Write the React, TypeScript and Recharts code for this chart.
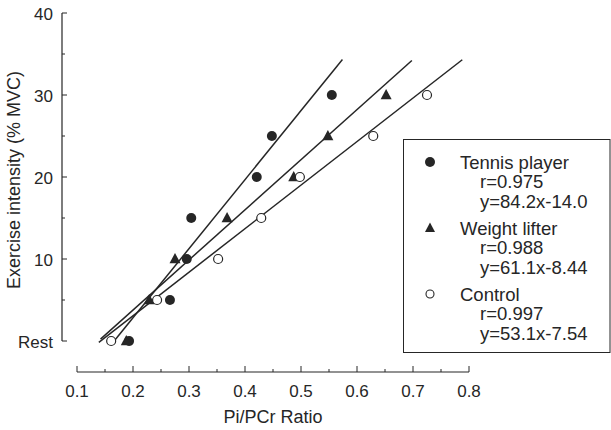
import React from 'react';
import { ScatterChart, Scatter, XAxis, YAxis, ReferenceLine, Legend, Label } from 'recharts';

// ---- data ----
const levels = [0, 5, 10, 15, 20, 25, 30];
const tennisX = [0.193, 0.266, 0.296, 0.304, 0.421, 0.448, 0.555];
const weightX = [0.188, 0.229, 0.275, 0.368, 0.487, 0.548, 0.652];
const controlX = [0.161, 0.243, 0.352, 0.429, 0.498, 0.629, 0.725];

const seriesNames = ['Tennis player', 'Weight lifter', 'Control'];
const rTexts = ['r=0.975', 'r=0.988', 'r=0.997'];
const eqTexts = ['y=84.2x-14.0', 'y=61.1x-8.44', 'y=53.1x-7.54'];
const slopes = [84.2, 61.1, 53.1];
const intercepts = [-14.0, -8.44, -7.54];
const lineStarts = [0.162, 0.142, 0.139];
const lineEnds = [0.574, 0.698, 0.788];

const xTicks = [0.1, 0.15, 0.2, 0.25, 0.3, 0.35, 0.4, 0.45, 0.5, 0.55, 0.6, 0.65, 0.7, 0.75, 0.8];
const yTicks = [0, 5, 10, 15, 20, 25, 30, 35, 40];
const yTickLabels: Record<number, string> = { 0: 'Rest', 10: '10', 20: '20', 30: '30', 40: '40' };

const X_MIN = 0.0732;
const Y_MIN = -3.78;
const INK = '#262626';
const FONT = '"Liberation Sans", Arial, Helvetica, sans-serif';

const toPoints = (xs: number[]) => xs.map((x, i) => ({ x, y: levels[i] }));
const tennisData = toPoints(tennisX);
const weightData = toPoints(weightX);
const controlData = toPoints(controlX);
const fitLines = slopes.map((m, i) => [
  { x: lineStarts[i], y: m * lineStarts[i] + intercepts[i] },
  { x: lineEnds[i], y: m * lineEnds[i] + intercepts[i] },
]);

const FilledCircle = (p: any) => <circle cx={p.cx} cy={p.cy} r={5} fill={INK} />;
const OpenCircle = (p: any) => (
  <circle cx={p.cx} cy={p.cy} r={4.5} fill="#fff" stroke={INK} strokeWidth={1.2} />
);
const Triangle = (p: any) => (
  <path d={`M${p.cx},${p.cy - 6} L${p.cx + 5.5},${p.cy + 4.3} L${p.cx - 5.5},${p.cy + 4.3} Z`} fill={INK} />
);
const NoShape = () => <g />;

const XTick = (props: any) => {
  const { x, y, payload } = props;
  const v = payload.value as number;
  const major = Math.abs(v * 10 - Math.round(v * 10)) < 1e-6;
  return (
    <g>
      <line x1={x} x2={x} y1={y} y2={y - (major ? 6 : 3)} stroke={INK} strokeWidth={1} />
      {major && (
        <text x={x} y={y + 25} textAnchor="middle" fontSize={17} fontFamily={FONT} fill={INK}>
          {v.toFixed(1)}
        </text>
      )}
    </g>
  );
};

const YTick = (props: any) => {
  const { x, y, payload } = props;
  const v = payload.value as number;
  const label = yTickLabels[v];
  return (
    <g>
      <line x1={x} x2={x + (label ? 5 : 3)} y1={y} y2={y} stroke={INK} strokeWidth={1} />
      {label && (
        <text x={x - 9} y={y} dy="0.42em" textAnchor="end" fontSize={17} fontFamily={FONT} fill={INK}>
          {label}
        </text>
      )}
    </g>
  );
};

const LegendBox = () => {
  const markers = [
    <circle key="m0" cx={27} cy={23} r={5} fill={INK} />,
    <path key="m1" d="M27,83.5 L32,93 L22,93 Z" fill={INK} />,
    <circle key="m2" cx={27} cy={155} r={4} fill="#fff" stroke={INK} strokeWidth={1.1} />,
  ];
  const groupTop = [23, 89, 155];
  return (
    <svg width={208} height={215} style={{ display: 'block', overflow: 'visible' }}>
      <rect x={0.5} y={0.5} width={206.5} height={213} fill="#fff" stroke={INK} strokeWidth={1} />
      {markers}
      {seriesNames.map((n, i) => (
        <g key={n} fontFamily={FONT} fontSize={18.5} fill={INK}>
          <text x={57} y={groupTop[i]} dy="0.36em">{n}</text>
          <text x={77} y={groupTop[i] + 19.5} dy="0.36em">{rTexts[i]}</text>
          <text x={77} y={groupTop[i] + 39} dy="0.36em">{eqTexts[i]}</text>
        </g>
      ))}
    </svg>
  );
};

export default function App() {
  return (
    <div style={{ position: 'absolute', left: 0, top: 0, background: '#fff' }}>
      <ScatterChart width={611} height={430} margin={{ top: 13, right: 142, bottom: 0, left: 0 }}>
        <XAxis
          type="number"
          dataKey="x"
          domain={[X_MIN, 0.8]}
          ticks={xTicks}
          interval={0}
          allowDataOverflow
          axisLine={false}
          tickLine={false}
          tickSize={0}
          tickMargin={0}
          height={58}
          tick={<XTick />}
        >
          <Label
            content={() => (
              <text x={273} y={423} textAnchor="middle" fontSize={18} fontFamily={FONT} fill={INK}>
                Pi/PCr Ratio
              </text>
            )}
          />
        </XAxis>
        <YAxis
          type="number"
          dataKey="y"
          domain={[Y_MIN, 40]}
          ticks={yTicks}
          interval={0}
          allowDataOverflow
          axisLine={false}
          tickLine={false}
          tickSize={0}
          tickMargin={0}
          width={62}
          tick={<YTick />}
        >
          <Label
            content={() => (
              <text
                transform="translate(20,180) rotate(-90)"
                textAnchor="middle"
                fontSize={18}
                fontFamily={FONT}
                fill={INK}
              >
                Exercise intensity (% MVC)
              </text>
            )}
          />
        </YAxis>
        <ReferenceLine
          segment={[{ x: 0.1, y: Y_MIN }, { x: 0.8, y: Y_MIN }]}
          stroke={INK}
          strokeWidth={1.2}
          ifOverflow="visible"
        />
        <ReferenceLine
          segment={[{ x: X_MIN, y: 0 }, { x: X_MIN, y: 40 }]}
          stroke={INK}
          strokeWidth={1.2}
          ifOverflow="visible"
        />
        {fitLines.map((d, i) => (
          <Scatter
            key={'fit' + i}
            data={d}
            line={{ stroke: INK, strokeWidth: 1.5 }}
            shape={NoShape}
            legendType="none"
            isAnimationActive={false}
          />
        ))}
        <Scatter name="Tennis player" data={tennisData} shape={FilledCircle} isAnimationActive={false} />
        <Scatter name="Weight lifter" data={weightData} shape={Triangle} isAnimationActive={false} />
        <Scatter name="Control" data={controlData} shape={OpenCircle} isAnimationActive={false} />
        <Legend
          layout="horizontal"
          verticalAlign="middle"
          align="center"
          content={LegendBox}
          wrapperStyle={{ left: 403, top: 139, width: 208, height: 215 }}
        />
      </ScatterChart>
    </div>
  );
}
